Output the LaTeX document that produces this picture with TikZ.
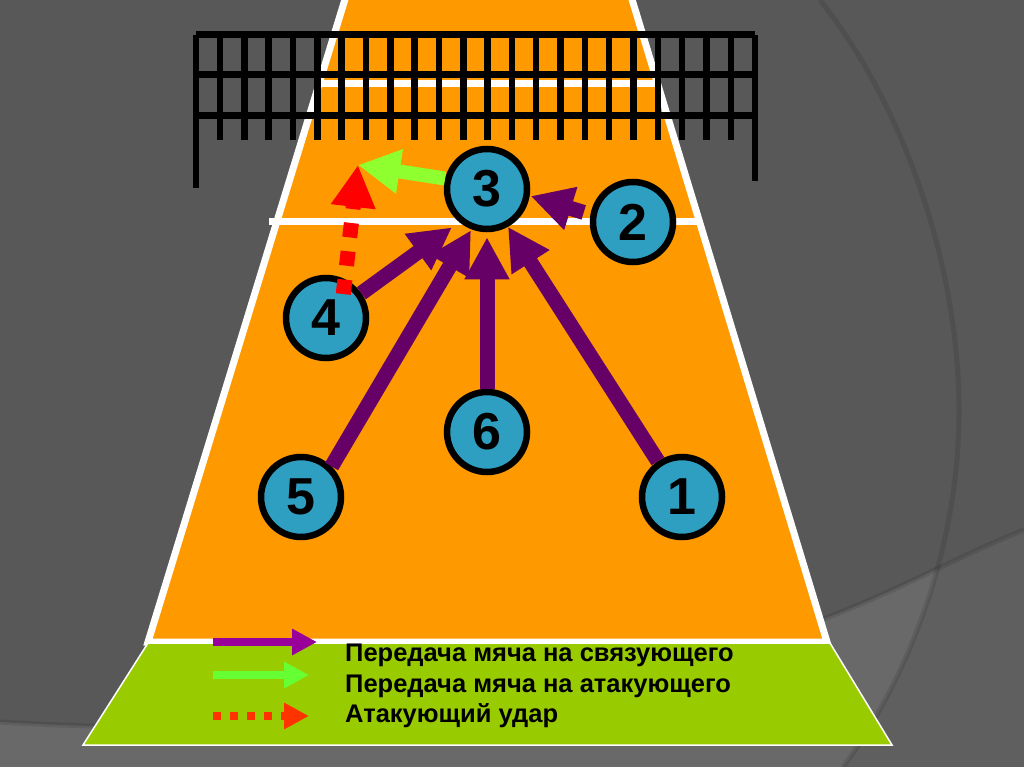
\documentclass[tikz,border=0pt]{standalone}
\usepackage{fontspec}
\setmainfont{Liberation Sans}
\usetikzlibrary{arrows.meta}
\definecolor{slidebg}{HTML}{585858}
\definecolor{bandgray}{HTML}{5F5F5F}
\definecolor{bandlight}{HTML}{696969}
\definecolor{courtorange}{HTML}{FF9900}
\definecolor{freegreen}{HTML}{99CC00}
\definecolor{playerblue}{HTML}{2E9FC0}
\definecolor{passpurple}{HTML}{660066}
\definecolor{legendpurple}{HTML}{990099}
\definecolor{setgreen}{HTML}{8FFF2F}
\definecolor{legendgreen}{HTML}{66FF33}
\definecolor{hitred}{HTML}{FF0000}
\definecolor{legendred}{HTML}{FF3300}

\begin{document}
\begin{tikzpicture}[x=1pt, y=-1pt,
    player/.style={circle, draw=black, fill=playerblue, line width=6.5pt, minimum size=80pt, inner sep=0pt, font=\fontsize{52}{52}\selectfont\bfseries},
    netrow/.style={black, line width=7pt},
    netbar/.style={black, line width=6.4pt},
    courtline/.style={white, line width=7pt},
    softline/.style={black, opacity=0.1, line width=5pt},
    bigtip/.style={-{Triangle[length=42pt, width=42pt]}, line width=15pt},
    smalltip/.style={-{Triangle[length=25pt, width=25pt]}, line width=8pt},
    legendtext/.style={anchor=base west, inner sep=0pt, font=\fontsize{25.5}{28}\selectfont\bfseries}
]
    % Background
    \useasboundingbox (0,0) rectangle (1024,767);
    \fill[slidebg] (0,0) rectangle (1024,767);
    \fill[bandgray] (0,722) .. controls (300,740) and (600,710) .. (826,618) .. controls (900,590) and (960,555) .. (1024,530) -- (1024,767) -- (0,767) -- cycle;
    \begin{scope}
        \clip (0,722) .. controls (300,740) and (600,710) .. (826,618) .. controls (900,590) and (960,555) .. (1024,530) -- (1024,767) -- (0,767) -- cycle;
        \clip (0,0) -- (820,0) .. controls (900,100) and (959,260) .. (959,411) .. controls (959,560) and (900,690) .. (843,767) -- (0,767) -- cycle;
        \fill[bandlight] (0,0) rectangle (1024,767);
    \end{scope}
    \draw[softline] (820,0) .. controls (900,100) and (959,260) .. (959,411) .. controls (959,560) and (900,690) .. (843,767);
    \draw[softline] (0,722) .. controls (300,740) and (600,710) .. (826,618) .. controls (900,590) and (960,555) .. (1024,530);

    % Court
    \draw[courtline, fill=courtorange] (346,-4) -- (148,642) -- (827,642) -- (631,-4) -- cycle;
    \fill[white] (322,80) rectangle (655,87);
    \draw[courtline] (269,222) -- (697,222);
    \draw[white, line width=1.5pt, fill=freegreen] (148,643) -- (83,745) -- (892,745) -- (830,643) -- cycle;

    % Net
    \foreach \y in {35,75,116}
        \draw[netrow] (196,\y) -- (755,\y);
    \foreach \k in {0,...,21}
        \draw[netbar] ({220+24.33*\k},35) -- ({220+24.33*\k},140);
    \draw[netbar] (196,35) -- (196,188);
    \draw[netbar] (755,35) -- (755,181);

    % Players
    \node[player] (p3) at (487,189) {3};
    \node[player] (p2) at (633,222) {2};
    \node[player] (p4) at (326,318) {4};
    \node[player] (p6) at (487,432) {6};
    \node[player] (p5) at (301,497) {5};
    \node[player] (p1) at (682,497) {1};
    \coordinate (attack) at (358,165);

    % Passes to the setter
    \draw[bigtip, passpurple, shorten >=1pt, shorten <=7pt] (p2.170) -- (p3.351);
    \draw[bigtip, passpurple, shorten >=9pt] (p4.35) -- (p3.230);
    \draw[bigtip, passpurple, shorten >=1pt] (p5.45) -- (p3.249);
    \draw[bigtip, passpurple, shorten >=5pt] (p6) -- (p3.270);
    \draw[bigtip, passpurple] (p1.124) -- (p3.299);

    % Set and attack
    \draw[bigtip, setgreen, line width=14pt] (p3.166) -- (attack);
    \draw[bigtip, hitred, dash pattern=on 14.5pt off 14pt, shorten <=-15pt] (p4.64) -- (attack);

    % Legend
    \coordinate (lega) at (213,642);
    \coordinate (legb) at (317,642);
    \coordinate (legc) at (213,675);
    \coordinate (legd) at (309,675);
    \coordinate (lege) at (213,716);
    \coordinate (legf) at (309,716);
    \draw[smalltip, legendpurple] (lega) -- (legb);
    \draw[smalltip, legendgreen] (legc) -- (legd);
    \draw[smalltip, legendred, dash pattern=on 8pt off 9pt] (lege) -- (legf);
    \node[legendtext] (txta) at (345,661) {Передача мяча на связующего};
    \node[legendtext] (txtb) at (345,692) {Передача мяча на атакующего};
    \node[legendtext] (txtc) at (345,722) {Атакующий удар};
\end{tikzpicture}
\end{document}
